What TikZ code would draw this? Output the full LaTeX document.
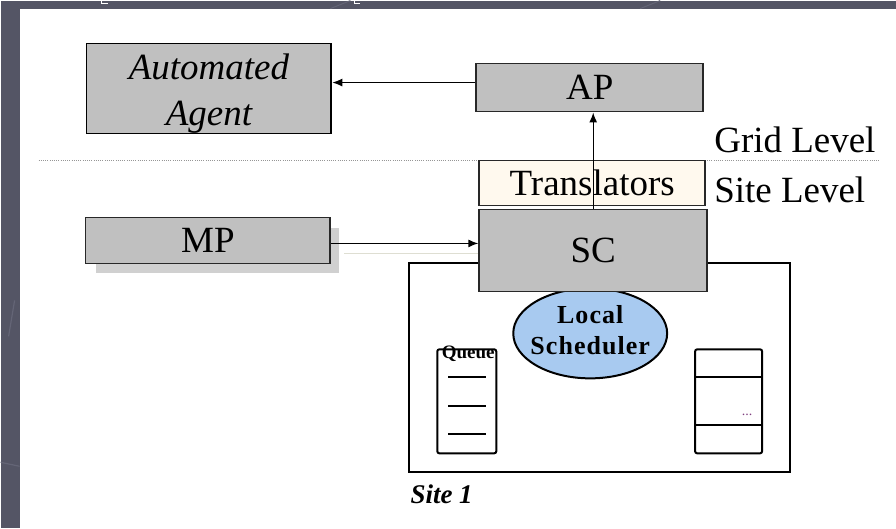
\documentclass[tikz,border=0pt]{standalone}
\usepackage{fontspec}
\setmainfont{Liberation Serif}
\newfontfamily\schedfont[LetterSpace=4]{Liberation Serif}
\usetikzlibrary{arrows.meta,shapes.geometric}

\definecolor{slate}{RGB}{84,85,101}
\definecolor{slateline}{RGB}{100,101,118}
\definecolor{boxgray}{RGB}{192,192,192}
\definecolor{boxedge}{RGB}{40,40,40}
\definecolor{cream}{RGB}{255,249,238}
\definecolor{schedblue}{RGB}{168,202,240}
\definecolor{shadowgray}{RGB}{208,208,208}
\definecolor{ghostline}{RGB}{222,222,210}
\definecolor{dotgray}{RGB}{150,150,150}

\tikzset{
  bigtext/.style={font=\fontsize{37}{46}\selectfont},
  graybox/.style={draw=boxedge, line width=1.8pt, fill=boxgray, inner sep=0pt, bigtext},
  creambox/.style={draw=boxedge, line width=1.8pt, fill=cream, inner sep=0pt, bigtext},
  conn/.style={draw=black, line width=1.4pt, -{Latex[length=10pt,width=8pt]}},
  frame/.style={draw=black, line width=2pt},
  slot/.style={draw=black, line width=2pt, rounded corners=2pt},
  tick/.style={draw=black, line width=2.2pt},
  leveltext/.style={bigtext, anchor=base west, inner sep=0pt}
}

\begin{document}
\begin{tikzpicture}[x=1pt,y=-1pt]
  % slide background and white canvas
  \fill[slate] (0,0) rectangle (896,528);
  \draw[slateline, line width=1.2pt] (14,300) -- (8,336);
  \draw[slateline, line width=1.2pt] (0,462) -- (19,466);
  \draw[slateline, line width=1pt] (330,8) -- (350,0);
  \draw[slateline, line width=1pt] (640,8) -- (660,0);
  \draw[white, line width=1.2pt] (101,0) -- (101,3) -- (107,3);
  \draw[white, line width=1.2pt] (354,0) -- (354,3) -- (360,3);
  \fill[white] (19,8) rectangle (896,528);
  \useasboundingbox (0,0) rectangle (896,528);

  % grid / site separator
  \draw[dotgray, line width=1pt, dash pattern=on 1pt off 1.2pt] (38,160) -- (879,160);

  % monitoring process with drop shadow
  \fill[shadowgray] (95,228) rectangle (339,273);
  \node[graybox, minimum width=245pt, minimum height=46pt] (MP) at (207.5,240) {MP};

  % automated agent and AP
  \node[graybox, draw=black, minimum width=245pt, minimum height=90pt,
        label={[bigtext, font=\fontsize{37}{46}\selectfont\itshape, align=center, yshift=-5pt]center:Automated\\Agent}]
        (Agent) at (208.5,88) {};
  \node[graybox, minimum width=227pt, minimum height=48pt] (AP) at (589.5,87) {AP};
  \draw[conn] ([yshift=5pt]AP.west) -- ([yshift=5pt]AP.west -| Agent.east);

  % translators layer
  \node[creambox, minimum width=226pt, minimum height=45pt] (Trans) at (592,182.5) {Translators};

  % site frame, local scheduler and site controller
  \draw[frame] (409,263) rectangle (790,472);
  \node[ellipse, draw=black, line width=2pt, fill=schedblue, minimum width=154pt, minimum height=90pt, inner sep=0pt,
        label={[font=\schedfont\fontsize{26}{31}\selectfont\bfseries, align=center, yshift=3pt]center:Local\\Scheduler}]
        (Sched) at (590,333) {};
  \node[graybox, minimum width=228pt, minimum height=82pt] (SC) at (593,250) {SC};

  \draw[conn] (SC.north) -- (SC.north |- AP.south);
  \draw[conn] ([yshift=-3pt]MP.east) -- ([yshift=-3pt]MP.east -| SC.west);
  \draw[ghostline, line width=1.2pt] ([xshift=13pt,yshift=-13pt]MP.east) -- ([yshift=-13pt]MP.east -| SC.west);

  % job queue
  \draw[slot] (437,349) rectangle (496,453);
  \draw[tick] (448,377) -- (486,377);
  \draw[tick] (448,406) -- (486,406);
  \draw[tick] (448,434) -- (486,434);
  \node[font=\fontsize{19}{22}\selectfont\bfseries, anchor=base, inner sep=0pt] (QueueLbl) at (468,358) {Queue};

  % resource slots
  \draw[slot] (695,349) rectangle (762,453);
  \draw[frame] (695,377) -- (762,377);
  \draw[frame] (695,425) -- (762,425);
  \node[font=\fontsize{14}{16}\selectfont, text=violet!50!gray, anchor=base, inner sep=0pt] (Dots) at (747,415) {...};

  % level and site captions
  \node[leveltext] (Grid) at (714,152) {Grid Level};
  \node[leveltext] (SiteLvl) at (714,202) {Site Level};
  \node[font=\fontsize{27}{30}\selectfont\bfseries\itshape, anchor=base west, inner sep=0pt] (Site) at (410,503) {Site 1};
\end{tikzpicture}
\end{document}
